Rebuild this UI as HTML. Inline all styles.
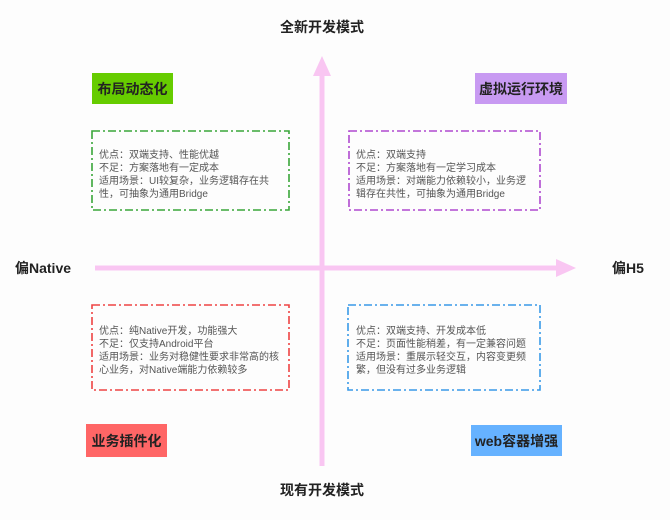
<!DOCTYPE html>
<html><head><meta charset="utf-8"><style>
html,body{margin:0;padding:0;background:#fdfdfd;}
svg{display:block;font-family:"Liberation Sans","Noto Sans CJK SC",sans-serif;}
.t{font-size:10px;fill:#555;}
.b{font-weight:bold;font-size:14px;fill:#222;}
</style></head><body>
<svg width="670" height="520" viewBox="0 0 670 520" xmlns="http://www.w3.org/2000/svg">
<rect width="670" height="520" fill="#fdfdfd"/>
<line x1="322" y1="70" x2="322" y2="466" stroke="#f9c6f2" stroke-width="5"/>
<polygon points="322,56 313,76 331,76" fill="#f9c6f2"/>
<line x1="95" y1="268" x2="562" y2="268" stroke="#f9c6f2" stroke-width="5"/>
<polygon points="576,268 556,259 556,277" fill="#f9c6f2"/>
<text x="322" y="32" text-anchor="middle" class="b">全新开发模式</text>
<text x="322" y="495" text-anchor="middle" class="b">现有开发模式</text>
<text x="15" y="273" class="b">偏Native</text>
<text x="612" y="273" class="b">偏H5</text>
<rect x="92" y="73" width="81" height="31" fill="#66cc00"/>
<text x="132.5" y="94" text-anchor="middle" class="b">布局动态化</text>
<rect x="475" y="73" width="92" height="31" fill="#c89af2"/>
<text x="521" y="94" text-anchor="middle" class="b">虚拟运行环境</text>
<rect x="86" y="424" width="81" height="33" fill="#ff6666"/>
<text x="126.5" y="446" text-anchor="middle" class="b">业务插件化</text>
<rect x="471" y="425" width="91" height="31" fill="#66b2ff"/>
<text x="516.5" y="446" text-anchor="middle" class="b">web容器增强</text>
<g fill="none" stroke-width="1.6" stroke-dasharray="8,3,2,3">
<rect x="92" y="131" width="197" height="79" stroke="#3aa63a"/>
<rect x="349" y="131" width="191" height="79" stroke="#b04ad0"/>
<rect x="92" y="305" width="197" height="85" stroke="#ee4444"/>
<rect x="348" y="305" width="192" height="85" stroke="#3a9ae8"/>
</g>
<g class="t">
<text x="99" y="158">优点：双端支持、性能优越</text>
<text x="99" y="171">不足：方案落地有一定成本</text>
<text x="99" y="184">适用场景：UI较复杂，业务逻辑存在共</text>
<text x="99" y="197">性，可抽象为通用Bridge</text>

<text x="356" y="158">优点：双端支持</text>
<text x="356" y="171">不足：方案落地有一定学习成本</text>
<text x="356" y="184">适用场景：对端能力依赖较小，业务逻</text>
<text x="356" y="197">辑存在共性，可抽象为通用Bridge</text>

<text x="99" y="334">优点：纯Native开发，功能强大</text>
<text x="99" y="347">不足：仅支持Android平台</text>
<text x="99" y="360">适用场景：业务对稳健性要求非常高的核</text>
<text x="99" y="373">心业务，对Native端能力依赖较多</text>

<text x="356" y="334">优点：双端支持、开发成本低</text>
<text x="356" y="347">不足：页面性能稍差，有一定兼容问题</text>
<text x="356" y="360">适用场景：重展示轻交互，内容变更频</text>
<text x="356" y="373">繁，但没有过多业务逻辑</text>
</g>
</svg>
</body></html>
